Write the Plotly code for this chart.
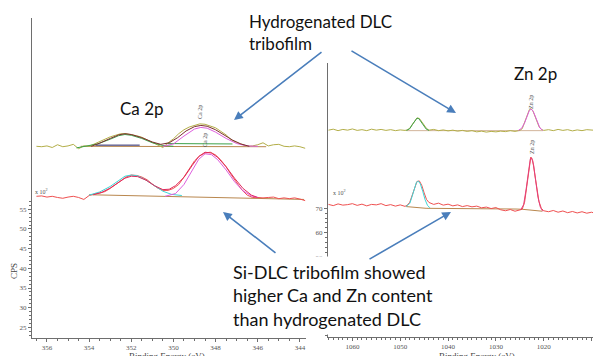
import plotly.graph_objects as go

# ---------------- Ca 2p panel (binding energy eV, CPS x10^2) ----------------
ca_ev = [356.5, 356.25, 356.0, 355.75, 355.5, 355.25, 355.0, 354.75, 354.5, 354.25,
         354.0, 353.75, 353.5, 353.25, 353.0, 352.75, 352.5, 352.25, 352.0, 351.75,
         351.5, 351.25, 351.0, 350.75, 350.5, 350.25, 350.0, 349.75, 349.5, 349.25,
         349.0, 348.75, 348.5, 348.25, 348.0, 347.75, 347.5, 347.25, 347.0, 346.75,
         346.5, 346.25, 346.0, 345.75, 345.5, 345.25, 345.0, 344.75, 344.5, 344.25,
         344.0, 343.75]
ca_hdlc_raw = [71.0, 70.9, 71.1, 70.7, 71.4, 70.9, 71.1, 71.5, 70.4, 71.1,
               71.0, 71.6, 72.4, 72.9, 73.4, 73.8, 74.2, 74.2, 74.0, 73.7,
               73.3, 72.6, 72.0, 71.4, 70.7, 71.9, 72.9, 74.2, 75.2, 75.9,
               76.4, 76.7, 76.6, 76.2, 75.7, 74.8, 73.9, 72.6, 71.9, 71.5,
               71.0, 71.1, 71.4, 71.9, 71.1, 71.4, 71.5, 71.0, 70.9, 71.1,
               70.9, 70.5]
ca_sidlc_raw = [58.3, 58.4, 58.1, 58.3, 58.0, 57.8, 58.1, 58.3, 58.0, 57.5,
                58.5, 58.9, 59.1, 59.5, 60.3, 61.3, 62.2, 63.2, 63.7, 63.6,
                63.2, 62.5, 61.4, 60.4, 59.8, 59.8, 60.3, 61.3, 63.2, 65.3,
                67.3, 68.6, 69.3, 69.5, 68.8, 67.5, 65.8, 63.7, 61.7, 59.9,
                58.6, 58.0, 58.0, 57.9, 58.0, 58.1, 57.7, 57.9, 57.7, 57.9,
                57.6, 57.2]

ca_hdlc_env_ev = [353.9, 353.5, 353.0, 352.6, 352.3, 352.0, 351.5, 351.0, 350.6, 350.2,
                  349.8, 349.4, 349.0, 348.7, 348.4, 348.0, 347.6, 347.2, 346.8, 346.4]
ca_hdlc_env = [71.0, 71.8, 73.0, 73.9, 74.2, 74.0, 73.2, 72.1, 71.5, 71.9,
               73.2, 74.9, 76.0, 76.3, 76.1, 75.2, 73.9, 72.6, 71.6, 71.0]
ca_hdlc_c1_ev = [354.6, 354.2, 353.6, 353.0, 352.6, 352.3, 352.0, 351.5, 351.0, 350.5, 350.0]
ca_hdlc_c1 = [70.6, 71.0, 71.6, 72.8, 73.7, 74.0, 73.8, 73.0, 71.9, 71.2, 71.0]
ca_hdlc_c2_ev = [350.5, 350.0, 349.5, 349.0, 348.7, 348.4, 348.0, 347.5, 347.0, 346.5, 346.0]
ca_hdlc_c2 = [71.0, 71.6, 73.6, 75.4, 75.8, 75.6, 74.6, 73.0, 71.7, 71.1, 71.0]
ca_hdlc_c3_ev = [350.4, 347.2]
ca_hdlc_c3 = [71.7, 71.6]
ca_hdlc_bg_ev = [354.4, 345.6]
ca_hdlc_bg = [71.0, 70.9]
ca_hdlc_bg2_ev = [353.7, 351.6]
ca_hdlc_bg2 = [71.3, 71.3]

ca_sidlc_env_ev = [353.8, 353.4, 353.0, 352.6, 352.3, 352.0, 351.7, 351.3, 350.9, 350.5,
                   350.2, 349.9, 349.5, 349.1, 348.8, 348.5, 348.2, 347.9, 347.5, 347.1,
                   346.7, 346.3, 346.0]
ca_sidlc_env = [58.7, 59.3, 60.4, 61.9, 62.9, 63.4, 63.3, 62.4, 61.0, 60.0,
                60.1, 61.0, 63.1, 66.2, 68.4, 69.5, 69.3, 68.2, 65.8, 62.9,
                60.3, 58.6, 58.0]
ca_sidlc_c1_ev = [354.0, 353.5, 353.0, 352.6, 352.3, 352.0, 351.7, 351.3, 350.9, 350.5, 350.1, 349.6]
ca_sidlc_c1 = [58.6, 59.4, 60.8, 62.4, 63.4, 63.7, 63.5, 62.4, 60.9, 59.6, 58.8, 58.5]
ca_sidlc_c2_ev = [350.4, 349.9, 349.5, 349.1, 348.8, 348.5, 348.2, 347.9, 347.5, 347.1, 346.7, 346.3, 346.0]
ca_sidlc_c2 = [58.3, 59.0, 61.3, 64.8, 67.7, 69.1, 68.9, 67.6, 65.0, 62.0, 59.7, 58.4, 58.0]
ca_sidlc_bg_ev = [354.0, 350.0, 346.0, 343.8]
ca_sidlc_bg = [58.7, 58.2, 57.8, 57.5]

# ---------------- Zn 2p panel ----------------
zn_ev = [1065, 1064, 1063, 1062, 1061, 1060, 1059, 1058, 1057, 1056, 1055, 1054, 1053,
         1052, 1051, 1050, 1049, 1048.5, 1048, 1047.5, 1047, 1046.5, 1046, 1045.5, 1045,
         1044.5, 1044, 1043.5, 1043, 1042, 1041, 1040, 1039, 1038, 1037, 1036, 1035,
         1034, 1033, 1032, 1031, 1030, 1029, 1028, 1027, 1026, 1025, 1024.5, 1024,
         1023.5, 1023, 1022.7, 1022.3, 1022, 1021.5, 1021, 1020.5, 1020, 1019, 1018,
         1017, 1016, 1015, 1014, 1013, 1012, 1011, 1010, 1009.7]
zn_sidlc_raw = [71.6, 71.1, 71.8, 71.3, 71.5, 71.9, 71.2, 71.7, 71.0, 71.6, 71.4, 71.9, 71.1,
                71.5, 70.9, 71.4, 70.8, 71.3, 72.5, 75.5, 78.9, 81.0, 81.2, 79.4, 76.3,
                73.6, 72.4, 72.0, 71.6, 72.1, 71.3, 71.7, 71.0, 71.4, 70.7, 71.1, 70.6,
                70.9, 70.2, 70.5, 69.9, 70.3, 69.4, 69.0, 69.5, 68.8, 69.2, 69.6, 72.5,
                80.0, 88.5, 91.0, 89.5, 86.0, 78.5, 72.8, 70.0, 69.0, 68.6, 69.1,
                68.4, 68.9, 68.2, 68.7, 68.1, 68.6, 68.0, 68.4, 68.2]
zn_hdlc_raw = [102.0, 102.4, 101.8, 102.3, 102.0, 102.5, 101.9, 102.2, 101.8, 102.4, 102.0, 102.3, 101.9,
               102.2, 101.8, 102.1, 101.9, 102.1, 102.8, 104.3, 105.9, 107.0, 106.8, 105.4, 103.9,
               102.7, 102.0, 102.2, 102.3, 101.8, 102.1, 101.7, 102.0, 101.6, 101.9, 101.5, 101.8,
               101.3, 101.6, 101.2, 101.5, 101.3, 101.6, 101.4, 101.8, 101.5, 101.9, 102.6, 105.3,
               108.0, 110.4, 110.8, 110.0, 108.6, 105.8, 103.5, 102.3, 101.9, 102.2, 101.8,
               102.3, 101.9, 102.2, 101.7, 102.1, 101.8, 102.2, 101.9, 102.0]

zn_sidlc_c1_ev = [1048.8, 1048, 1047.5, 1047, 1046.6, 1046.2, 1045.8, 1045.3, 1044.8, 1044.3, 1043.8]
zn_sidlc_c1 = [70.7, 72.0, 75.0, 78.6, 80.7, 81.1, 80.0, 77.0, 73.5, 71.2, 70.2]
zn_sidlc_c2_ev = [1024.8, 1024.2, 1023.7, 1023.2, 1022.8, 1022.5, 1022.1, 1021.7, 1021.2, 1020.7, 1020.2]
zn_sidlc_c2 = [69.4, 71.5, 77.5, 85.5, 90.3, 90.6, 87.5, 81.5, 74.5, 70.4, 68.8]
zn_sidlc_bg_ev = [1048.75, 1044.6, 1025.8, 1024.5, 1020.3]
zn_sidlc_bg = [70.7, 70.0, 69.7, 69.6, 68.8]

zn_hdlc_c1_ev = [1048.7, 1048, 1047.5, 1047, 1046.5, 1046.1, 1045.6, 1045.1, 1044.6, 1044]
zn_hdlc_c1 = [101.9, 102.6, 104.2, 105.8, 106.9, 106.7, 105.4, 103.8, 102.5, 101.9]
zn_hdlc_c2_ev = [1025.3, 1024.6, 1024, 1023.5, 1023, 1022.6, 1022.2, 1021.8, 1021.3, 1020.8, 1020.2]
zn_hdlc_c2 = [101.9, 102.8, 105.0, 107.8, 110.1, 110.6, 109.7, 107.8, 105.0, 102.9, 101.9]
zn_hdlc_bg_ev = [1048.7, 1020.2]
zn_hdlc_bg = [101.8, 101.8]

ca_xticks = [344, 346, 348, 350, 352, 354, 356]
ca_yticks = [25, 30, 35, 40, 45, 50, 55]
zn_xticks = [1010, 1020, 1030, 1040, 1050, 1060]
zn_yticks = [50, 60, 70]

# ---------------- colours ----------------
OLIVE = "#b3ae48"
RED = "#ef5050"
CRIMSON = "#e02a5c"
PINK = "#e6407a"
MAGENTA = "#de5ede"
CYAN = "#3fd6d6"
GREEN = "#3da24a"
BROWN = "#b9874e"
MAROON = "#7c2f2f"
NAVY = "#24246a"
AXC = "#6e6e6e"

W, H = 593, 356


def px(x):
    return x / W


def py(y):
    return 1 - y / H


fig = go.Figure()


def add(x, y, color, width=1.0, axis=1):
    fig.add_trace(go.Scatter(
        x=x, y=y, mode="lines", line=dict(color=color, width=width),
        xaxis="x" if axis == 1 else "x2", yaxis="y" if axis == 1 else "y2",
        hoverinfo="skip", showlegend=False))


# Ca panel
add(ca_hdlc_bg_ev, ca_hdlc_bg, BROWN)
add(ca_hdlc_bg2_ev, ca_hdlc_bg2, NAVY)
add(ca_hdlc_c3_ev, ca_hdlc_c3, GREEN)
add(ca_ev, ca_hdlc_raw, OLIVE)
add(ca_hdlc_c1_ev, ca_hdlc_c1, GREEN)
add(ca_hdlc_c2_ev, ca_hdlc_c2, MAGENTA)
add(ca_hdlc_env_ev, ca_hdlc_env, MAROON)
add(ca_sidlc_bg_ev, ca_sidlc_bg, BROWN)
add(ca_ev, ca_sidlc_raw, RED)
add(ca_sidlc_c1_ev, ca_sidlc_c1, CYAN)
add(ca_sidlc_c2_ev, ca_sidlc_c2, MAGENTA)
add(ca_sidlc_env_ev, ca_sidlc_env, CRIMSON)

# Zn panel
add(zn_hdlc_bg_ev, zn_hdlc_bg, "#d2b49a", axis=2)
add(zn_ev, zn_hdlc_raw, OLIVE, axis=2)
add(zn_hdlc_c1_ev, zn_hdlc_c1, GREEN, axis=2)
add(zn_hdlc_c2_ev, zn_hdlc_c2, MAGENTA, axis=2)
add(zn_sidlc_bg_ev, zn_sidlc_bg, BROWN, axis=2)
add(zn_ev, zn_sidlc_raw, RED, axis=2)
add(zn_sidlc_c1_ev, zn_sidlc_c1, CYAN, axis=2)
add(zn_sidlc_c2_ev, zn_sidlc_c2, PINK, axis=2)

tickfont = dict(family="Liberation Serif", size=7, color="#555555")

common_x = dict(showline=True, linecolor=AXC, linewidth=1, ticks="outside", ticklen=3,
                tickcolor=AXC, showgrid=False, zeroline=False, tickfont=tickfont,
                tickmode="array")
common_y = dict(showline=True, linecolor=AXC, linewidth=1, ticks="outside", ticklen=3,
                tickcolor=AXC, showgrid=False, zeroline=False, tickfont=tickfont,
                tickmode="array")

fig.update_layout(
    width=W, height=H, margin=dict(l=0, r=0, t=0, b=0),
    paper_bgcolor="white", plot_bgcolor="white", showlegend=False,
    xaxis=dict(domain=[px(32), px(306)], range=[356.71, 343.71], tickvals=ca_xticks,
               ticktext=[str(v) for v in ca_xticks], anchor="y",
               minor=dict(tickmode="linear", tick0=344, dtick=0.5, ticklen=2, ticks="outside",
                          tickcolor=AXC), **common_x),
    yaxis=dict(domain=[py(338), py(18)], range=[22.3, 103.6], tickvals=ca_yticks,
               ticktext=[str(v) for v in ca_yticks], anchor="x",
               minor=dict(tickmode="array", tickvals=list(range(23, 58)), ticklen=2,
                          ticks="outside", tickcolor=AXC), **common_y),
    xaxis2=dict(domain=[px(328), 1.0], range=[1065.1, 1009.7], tickvals=zn_xticks,
                ticktext=[str(v) for v in zn_xticks], anchor="y2",
                minor=dict(tickmode="linear", tick0=1010, dtick=1, ticklen=2, ticks="outside",
                           tickcolor=AXC), **common_x),
    yaxis2=dict(domain=[py(337), py(63)], range=[17.3, 129.5], tickvals=zn_yticks,
                ticktext=[str(v) for v in zn_yticks], anchor="x2",
                minor=dict(tickmode="array", tickvals=list(range(18, 72, 2)), ticklen=2,
                           ticks="outside", tickcolor=AXC), **common_y),
)

ann = []
small = dict(family="Liberation Serif", size=6, color="#555555")
serif9 = dict(family="Liberation Serif", size=9, color="#444444")
big = dict(family="Lato", size=17, color="#111111")


def label(x, y, text, font, xanchor="center", yanchor="middle", **kw):
    ann.append(dict(x=px(x), y=py(y), xref="paper", yref="paper", xanchor=xanchor,
                    yanchor=yanchor, text=text, showarrow=False, font=font, **kw))


label(33, 197, "x 10<sup>2</sup>", small, xanchor="left", yanchor="bottom")
label(331, 198, "x 10<sup>2</sup>", small, xanchor="left", yanchor="bottom")
label(14, 271, "CPS", serif9, textangle=-90)
label(167, 350, "Binding Energy (eV)", serif9, yanchor="top", borderpad=0)
label(477, 350, "Binding Energy (eV)", serif9, yanchor="top", borderpad=0)
# peak labels
label(200, 112, "Ca 2p", small, textangle=-90)
label(205, 140, "Ca 2p", small, textangle=-90)
label(531, 102, "Zn 2p", small, textangle=-90)
label(532, 147, "Zn 2p", small, textangle=-90)

# big labels
label(247, 9, "Hydrogenated DLC<br>tribofilm", big, xanchor="left", yanchor="top", align="left")
label(142, 108, "Ca 2p", big)
label(535, 73, "Zn 2p", big)
label(228, 295, "Si-DLC tribofilm showed<br>higher Ca and Zn content<br>than hydrogenated DLC",
      dict(family="Lato", size=18, color="#111111"), xanchor="left", align="left",
      bgcolor="white", borderpad=4)

# arrows (head, tail) in pixels
arrows = [((234, 120), (323, 51)), ((456, 113), (350, 50)),
          ((223, 212), (277, 254)), ((451, 212), (368, 260))]
for (hx, hy), (tx, ty) in arrows:
    ann.append(dict(x=px(hx), y=py(hy), xref="paper", yref="paper", text="",
                    xanchor="center", yanchor="middle",
                    showarrow=True, ax=tx - hx, ay=ty - hy, arrowhead=2, arrowsize=1.1,
                    arrowwidth=1.6, arrowcolor="#4a7ebb", standoff=0, startstandoff=0))

fig.update_layout(annotations=ann)
fig.write_html("out.html", config={"displayModeBar": False},
               post_script="document.body.style.margin='0';")
